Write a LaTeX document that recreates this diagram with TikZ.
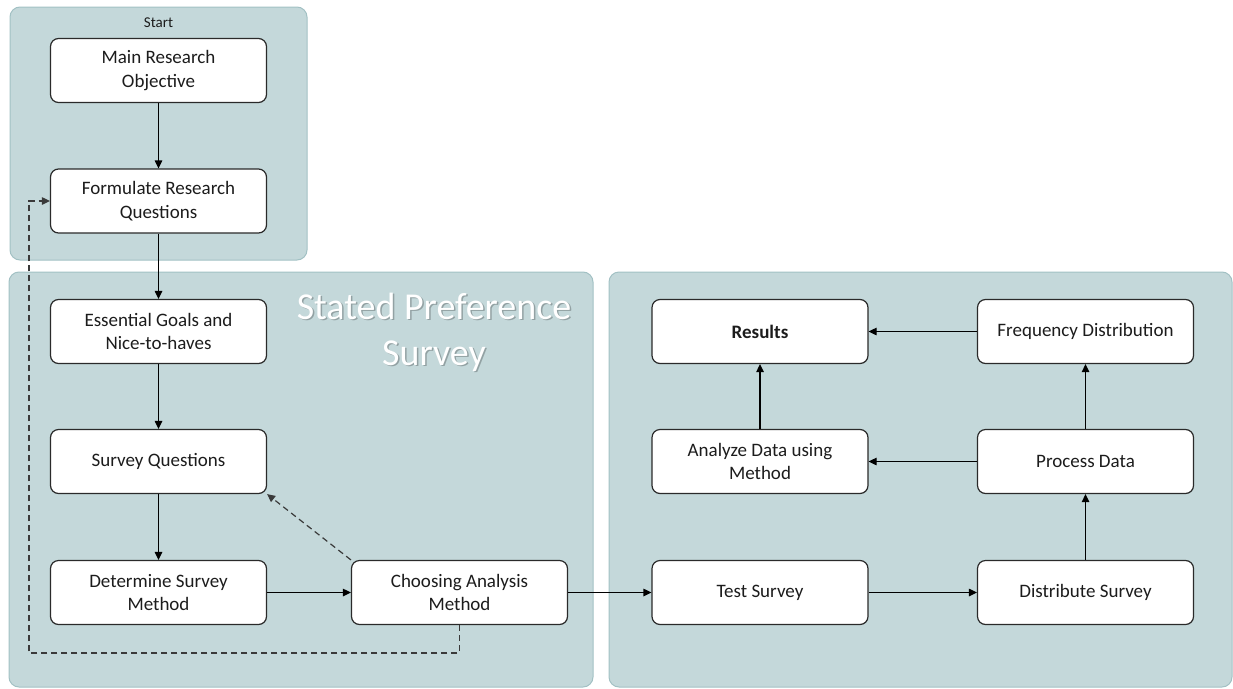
\documentclass[tikz,border=0pt]{standalone}
\usepackage{fontspec}
\setmainfont{Carlito}
\usetikzlibrary{arrows.meta}

\definecolor{panelfill}{HTML}{C4D8DA}
\definecolor{paneldraw}{HTML}{A2C1C4}
\definecolor{boxdraw}{HTML}{2A2A2A}
\definecolor{inktext}{HTML}{1C1C1C}
\definecolor{dashink}{HTML}{3A3A3A}

\tikzset{
  panel/.style={fill=panelfill, draw=paneldraw, line width=1pt, rounded corners=10pt},
  stepbox/.style={draw=boxdraw, fill=white, line width=1.2pt, rounded corners=8pt,
    minimum width=216pt, minimum height=64pt, inner sep=2pt, align=center,
    text=inktext, font=\fontsize{19}{23.5}\selectfont},
  flow/.style={draw=black, line width=1.2pt, -{Triangle[length=8pt,width=7.5pt]}},
  backflow/.style={draw=dashink, line width=1.2pt, dash pattern=on 6pt off 4pt,
    -{Triangle[length=8pt,width=7.5pt]}},
}

\begin{document}
\begin{tikzpicture}[x=1pt,y=1pt]
\useasboundingbox (0,0) rectangle (1233,-688);

% the three grouping panels
\draw[panel] (10,-7) rectangle (307,-260);
\draw[panel] (9,-272) rectangle (593,-687);
\draw[panel] (609,-272) rectangle (1232,-687);

\node[text=inktext, font=\fontsize{15}{18}\selectfont] (starttitle) at (158.5,-23) {Start};

% section title with a soft shadow
\node[text=black, opacity=0.25, align=center, font=\fontsize{38}{46}\selectfont]
  (spshadow) at (435.5,-333.5) {Stated Preference\\Survey};
\node[text=white, align=center, font=\fontsize{38}{46}\selectfont]
  (sptitle) at (434,-332) {Stated Preference\\Survey};

% process steps
\node[stepbox] (main)       at (158.5,-70.5)  {Main Research\\Objective};
\node[stepbox] (formulate)  at (158.5,-201)   {Formulate Research\\Questions};
\node[stepbox] (essential)  at (158.5,-331.5) {Essential Goals and\\Nice-to-haves};
\node[stepbox] (survey)     at (158.5,-461.5) {Survey Questions};
\node[stepbox] (determine)  at (158.5,-592.5) {Determine Survey\\Method};
\node[stepbox] (choosing)   at (459.5,-592.5) {Choosing Analysis\\Method};
\node[stepbox] (test)       at (760,-592.5)   {Test Survey};
\node[stepbox] (distribute) at (1085.5,-592.5){Distribute Survey};
\node[stepbox] (process)    at (1085.5,-461.5){Process Data};
\node[stepbox] (analyze)    at (760,-461.5)   {Analyze Data using\\Method};
\node[stepbox] (freq)       at (1085.5,-331.5){Frequency Distribution};
\node[stepbox] (results)    at (760,-331.5)   {\textbf{Results}};

% main flow
\draw[flow] (main) -- (formulate);
\draw[flow] (formulate) -- (essential);
\draw[flow] (essential) -- (survey);
\draw[flow] (survey) -- (determine);
\draw[flow] (determine) -- (choosing);
\draw[flow] (choosing) -- (test);
\draw[flow] (test) -- (distribute);
\draw[flow] (distribute) -- (process);
\draw[flow] (process) -- (freq);
\draw[flow] (process) -- (analyze);
\draw[flow] (freq) -- (results);
\draw[flow] (analyze) -- (results);

% feedback loops
\coordinate (loopcorner) at (29,-653);
\draw[backflow] (choosing.south) |- (loopcorner) |- (formulate.west);
\draw[backflow] (choosing.north west) -- (survey.south east);
\end{tikzpicture}
\end{document}
